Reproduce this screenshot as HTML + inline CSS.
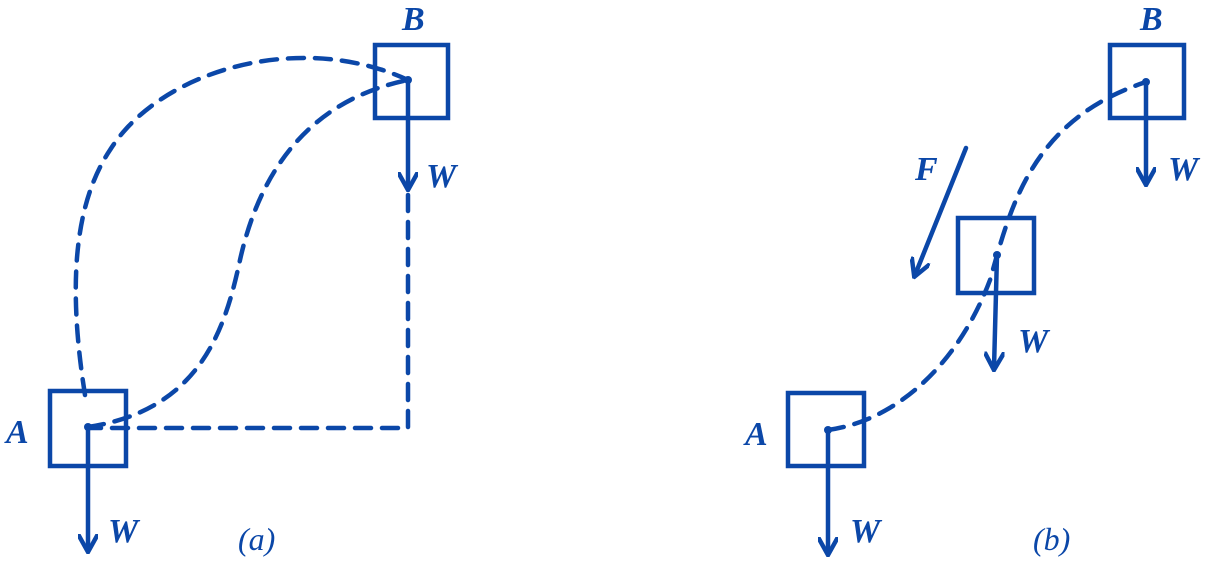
<!DOCTYPE html>
<html><head><meta charset="utf-8"><style>body{margin:0;background:#fff}svg{display:block}</style></head><body>
<svg width="1210" height="568" viewBox="0 0 1210 568" xmlns="http://www.w3.org/2000/svg">
<defs><marker id="ah" viewBox="0 0 10 10" refX="8" refY="5" markerWidth="4.5" markerHeight="4.5" orient="auto"><path d="M0,0 L9,5 L0,10" fill="none" stroke="#0b47a8" stroke-width="2.2"/></marker></defs>
<g stroke="#0b47a8" stroke-width="4.5" fill="none" stroke-linecap="round">
<rect x="50" y="391" width="76" height="75"/>
<rect x="375" y="45" width="73" height="73"/>
<line x1="88" y1="427" x2="88" y2="550" marker-end="url(#ah)"/>
<line x1="408" y1="80" x2="408" y2="188" marker-end="url(#ah)"/>
<g stroke-dasharray="16,11">
<path d="M408,195 L408,428 L90,428"/>
<path d="M85,395 C70,300 70,210 110,150 C160,70 300,30 408,80"/>
<path d="M88,427 C200,410 225,330 240,260 C260,170 310,100 408,80"/>
</g>
<rect x="788" y="393" width="76" height="73"/>
<rect x="958" y="218" width="76" height="75"/>
<rect x="1110" y="45" width="74" height="73"/>
<line x1="828" y1="430" x2="828" y2="553" marker-end="url(#ah)"/>
<line x1="997" y1="255" x2="994" y2="368" marker-end="url(#ah)"/>
<line x1="1146" y1="82" x2="1146" y2="183" marker-end="url(#ah)"/>
<line x1="966" y1="148" x2="915" y2="275" marker-end="url(#ah)"/>
<path stroke-dasharray="16,11" d="M828,430 C900,420 960,360 990,280 C1010,210 1030,120 1146,82"/>
</g>
<g fill="#0b47a8"><circle cx="88" cy="427" r="4"/><circle cx="408" cy="80" r="4"/><circle cx="828" cy="430" r="4"/><circle cx="997" cy="255" r="4"/><circle cx="1146" cy="82" r="4"/></g>
<g fill="#0b47a8" font-family="Liberation Serif, serif" font-style="italic" font-weight="bold" font-size="34">
<text x="6" y="443">A</text><text x="402" y="30">B</text><text x="426" y="187">W</text><text x="108" y="542">W</text>
<text x="745" y="445">A</text><text x="1140" y="30">B</text><text x="1168" y="180">W</text><text x="1018" y="352">W</text><text x="850" y="542">W</text><text x="915" y="180">F</text>
</g>
<g fill="#0b47a8" font-family="Liberation Serif, serif" font-style="italic" font-size="32">
<text x="238" y="550">(a)</text><text x="1033" y="550">(b)</text>
</g>
</svg>
</body></html>
